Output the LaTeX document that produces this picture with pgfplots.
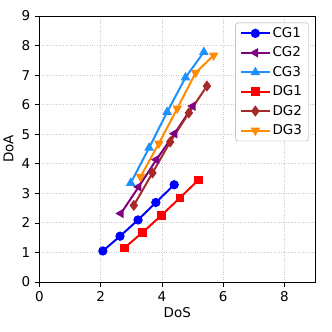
\documentclass[border=0pt]{standalone}
\usepackage{fontspec}
\setmainfont{DejaVu Sans}
\usepackage{pgfplots}
\pgfplotsset{compat=1.18}
\definecolor{cgone}{RGB}{0,0,255}
\definecolor{cgtwo}{RGB}{128,0,128}
\definecolor{cgthree}{RGB}{30,144,255}
\definecolor{dgone}{RGB}{255,0,0}
\definecolor{dgtwo}{RGB}{165,42,42}
\definecolor{dgthree}{RGB}{255,140,0}
\begin{document}
\fontsize{13.5bp}{16bp}\selectfont
\begin{tikzpicture}
\begin{axis}[
  scale only axis,
  width=275.5bp, height=266bp,
  xmin=0, xmax=9, ymin=0, ymax=9,
  xtick={0,2,4,6,8}, ytick={0,1,2,3,4,5,6,7,8,9},
  /pgf/number format/assume math mode=true,
  tick label style={font=\fontsize{13.5bp}{16bp}\selectfont},
  label style={font=\fontsize{13.5bp}{16bp}\selectfont},
  xlabel={DoS}, ylabel={DoA},
  xlabel style={yshift=3bp},
  ylabel style={yshift=-1bp},
  grid=major,
  major grid style={dotted, gray!40, line width=0.8bp},
  tick align=outside, tick pos=left,
  major tick length=4.5bp,
  every tick/.style={black, line width=0.7bp},
  axis line style={line width=0.9bp},
  legend style={font=\fontsize{13.5bp}{16bp}\selectfont, rounded corners=2.5bp, draw=gray!70, at={(0.977,0.975)}, anchor=north east, inner xsep=4.5bp, inner ysep=2.5bp, row sep=3.4bp},
  legend cell align=left,
  legend image code/.code={\draw[line width=2bp, mark repeat=2,mark phase=2] plot coordinates {(0cm,0cm) (0.5cm,0cm) (1cm,0cm)};},
  every axis plot/.append style={line width=2bp, mark size=3.6bp},
]
\addplot[color=cgone, mark=*] coordinates {(2.07,1.05) (2.63,1.55) (3.22,2.10) (3.80,2.69) (4.40,3.29)};
\addlegendentry{CG1}
\addplot[color=cgtwo, mark=triangle*, mark options={rotate=90}] coordinates {(2.66,2.32) (3.24,3.22) (3.82,4.14) (4.41,5.02) (5.01,5.95)};
\addlegendentry{CG2}
\addplot[color=cgthree, mark=triangle*] coordinates {(2.98,3.35) (3.58,4.54) (4.17,5.75) (4.77,6.92) (5.37,7.78)};
\addlegendentry{CG3}
\addplot[color=dgone, mark=square*, mark size=3.2bp] coordinates {(2.78,1.16) (3.37,1.68) (3.98,2.25) (4.59,2.85) (5.19,3.45)};
\addlegendentry{DG1}
\addplot[color=dgtwo, mark=diamond*, mark size=4bp] coordinates {(3.08,2.59) (3.69,3.69) (4.27,4.74) (4.88,5.72) (5.47,6.63)};
\addlegendentry{DG2}
\addplot[color=dgthree, mark=triangle*, mark options={rotate=180}] coordinates {(3.30,3.56) (3.90,4.69) (4.50,5.87) (5.10,7.08) (5.69,7.67)};
\addlegendentry{DG3}
\end{axis}
\pgfresetboundingbox
\path ([xshift=-39.5bp,yshift=-50bp]current axis.south west) rectangle ([xshift=17bp,yshift=16bp]current axis.north east);
\end{tikzpicture}
\end{document}
